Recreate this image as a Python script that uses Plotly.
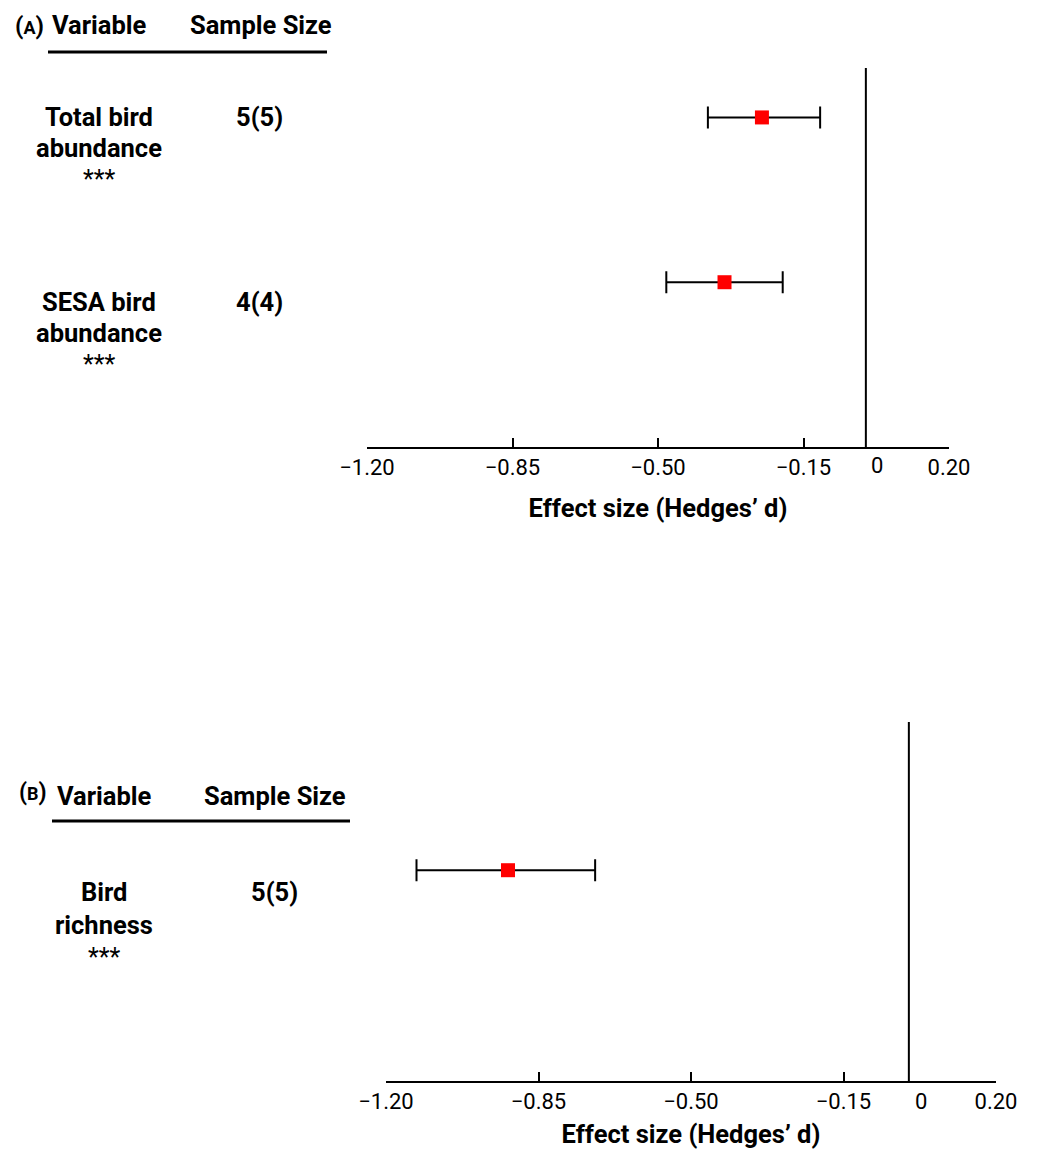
import plotly.graph_objects as go

# ---------------- data ----------------
a_variables = ["Total bird<br>abundance", "SESA bird<br>abundance"]
a_signif = ["***", "***"]
a_sample = ["5(5)", "4(4)"]
a_mean = [-0.25, -0.34]
a_lower = [-0.38, -0.48]
a_upper = [-0.11, -0.20]

b_variables = ["Bird<br>richness"]
b_signif = ["***"]
b_sample = ["5(5)"]
b_mean = [-0.92]
b_lower = [-1.13]
b_upper = [-0.72]

tick_vals = [-1.20, -0.85, -0.50, -0.15, 0.20]
tick_text = ["\u22121.20", "\u22120.85", "\u22120.50", "\u22120.15", "0.20"]
x_title = "Effect size (Hedges\u2019 d)"

# ---------------- layout helpers ----------------
# page body has an 8px margin; size the figure so it fits the 1037x1157 window
OFF = 8
W, H = 1037 - 2 * OFF, 1157 - 2 * OFF
FONT = "Roboto"
LBL = 25.5


def px(x):
    return (x - OFF) / W


def py(y):
    return 1 - (y - OFF) / H


fig = go.Figure()


def add_panel(idx, means, lows, ups):
    xa = "x" if idx == 1 else "x2"
    ya = "y" if idx == 1 else "y2"
    ypos = list(range(len(means)))
    fig.add_trace(go.Scatter(
        x=means, y=ypos, mode="markers", xaxis=xa, yaxis=ya,
        marker=dict(symbol="square", size=14, color="#ff0000", line=dict(width=0)),
        error_x=dict(type="data", symmetric=False,
                     array=[u - m for u, m in zip(ups, means)],
                     arrayminus=[m - l for m, l in zip(means, lows)],
                     color="black", thickness=2, width=11),
        showlegend=False, hoverinfo="x",
    ))


add_panel(1, a_mean, a_lower, a_upper)
add_panel(2, b_mean, b_lower, b_upper)

axis_common = dict(
    tickvals=tick_vals, ticktext=tick_text, showline=True, linecolor="black",
    linewidth=2, ticks="inside", ticklen=9, tickwidth=2, tickcolor="black",
    showgrid=False, zeroline=False, range=[-1.2, 0.2], automargin=False,
    tickfont=dict(family=FONT, size=22, color="black"),
    title=dict(text="<b>" + x_title + "</b>", font=dict(family=FONT, size=LBL, color="black"), standoff=20),
)

fig.update_layout(
    template="none",
    width=W, height=H, margin=dict(l=0, r=0, t=0, b=0, pad=0),
    paper_bgcolor="white", plot_bgcolor="white",
    xaxis=dict(domain=[px(367), px(949)], anchor="y", **axis_common),
    yaxis=dict(domain=[py(447), py(68)], range=[2.0, -0.3], visible=False, anchor="x", automargin=False),
    xaxis2=dict(domain=[px(386), px(996)], anchor="y2", **axis_common),
    yaxis2=dict(domain=[py(1081), py(722)], range=[1.28, -0.9], visible=False, anchor="x2", automargin=False),
)

shapes = []
# zero lines
for xr, yr in (("x", "y domain"), ("x2", "y2 domain")):
    shapes.append(dict(type="line", xref=xr, yref=yr, x0=0, x1=0, y0=0, y1=1,
                       line=dict(color="black", width=2)))
# header underlines
shapes.append(dict(type="line", xref="paper", yref="paper", x0=px(48), x1=px(327),
                   y0=py(52), y1=py(52), line=dict(color="black", width=3)))
shapes.append(dict(type="line", xref="paper", yref="paper", x0=px(52), x1=px(350),
                   y0=py(821), y1=py(821), line=dict(color="black", width=3)))
fig.update_layout(shapes=shapes)

ann = []


def text(x, y, s, size=LBL, bold=True):
    ann.append(dict(xref="paper", yref="paper", x=px(x), y=py(y), text=("<b>%s</b>" % s) if bold else s,
                    showarrow=False, xanchor="center", yanchor="middle",
                    font=dict(family=FONT, size=size, color="black")))


# headers
text(29, 26, "(<span style='font-size:18px'>A</span>)", size=24)
text(99, 25, "Variable")
text(261, 25, "Sample Size")
text(33, 792, "(<span style='font-size:18px'>B</span>)", size=23)
text(104, 796, "Variable")
text(275, 796, "Sample Size")

# row labels (panel A)
a_label_x, a_sample_x = 99, 259
a_rows_y = [117, 302]
for i, (v, s, n) in enumerate(zip(a_variables, a_signif, a_sample)):
    y0 = a_rows_y[i]
    for j, line in enumerate(v.split("<br>")):
        text(a_label_x, y0 + 31 * j, line)
    text(a_label_x, y0 + 63, s, size=25, bold=False)
    text(a_sample_x, y0, n)

# row labels (panel B)
b_label_x, b_sample_x = 104, 274
b_rows_y = [892]
for i, (v, s, n) in enumerate(zip(b_variables, b_signif, b_sample)):
    y0 = b_rows_y[i]
    for j, line in enumerate(v.split("<br>")):
        text(b_label_x, y0 + 33 * j, line)
    text(b_label_x, y0 + 65, s, size=25, bold=False)
    text(b_sample_x, y0, n)

# "0" tick labels next to the zero lines
for xr, yy, sh in (("x", 465, 11), ("x2", 1101, 12)):
    ann.append(dict(xref=xr, yref="paper", x=0, y=py(yy), text="0", showarrow=False,
                    xanchor="center", yanchor="middle", xshift=sh,
                    font=dict(family=FONT, size=22, color="black")))

fig.update_layout(annotations=ann)

fig.write_html("out.html")
